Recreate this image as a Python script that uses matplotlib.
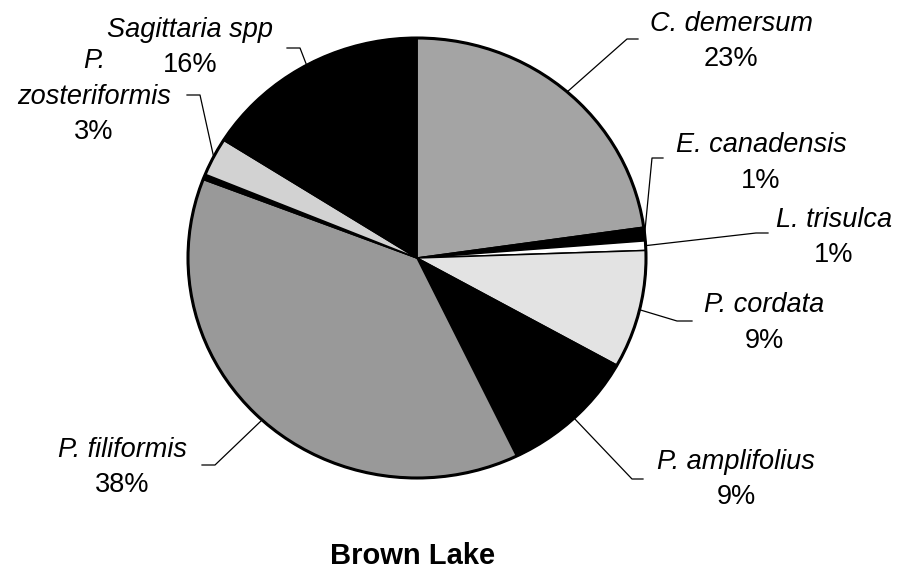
import numpy as np
import matplotlib
matplotlib.use("Agg")
import matplotlib.pyplot as plt
from matplotlib.patches import Ellipse

plt.rcParams["font.family"] = ["Liberation Sans", "DejaVu Sans"]

# --- data (clockwise from 12 o'clock) ---
species = ["C. demersum", "E. canadensis", "L. trisulca", "P. cordata",
           "P. amplifolius", "P. filiformis", "", "P.\nzosteriformis",
           "Sagittaria spp"]
shares = [22.9, 1.0, 0.7, 8.7, 9.8, 38.2, 0.4, 2.8, 16.1]
pct_labels = ["23%", "1%", "1%", "9%", "9%", "38%", "", "3%", "16%"]
fills = ["#a4a4a4", "#000000", "#ffffff", "#e3e3e3", "#000000",
         "#999999", "#000000", "#d2d2d2", "#000000"]
title = "Brown Lake"

# --- label layout, figure pixels (x centre, first baseline, leader elbow, leader end) ---
label_pos = [(731, 31), (761, 152), (834, 227), (764, 312), (736, 469),
             (122, 457), None, (94, 68), (190, 37)]
elbows = [((627, 39), (638, 39)), ((652, 158), (663, 158)),
          ((756, 233), (768, 233)), ((677, 321), (692, 321)),
          ((632, 479), (643, 479)), ((215, 465), (202, 465)), None,
          ((200, 95), (187, 95)), ((300, 48), (287, 48))]

W, H = 918, 582
cx, cy, rx, ry = 417, 258, 229, 220
line_step = 35.5
fs = 19.5

fig = plt.figure(figsize=(W / 100, H / 100), dpi=100)
fig.patch.set_facecolor("white")

ax_pie = fig.add_axes([(cx - rx) / W, (H - cy - ry) / H, 2 * rx / W, 2 * ry / H])
wedges, _ = ax_pie.pie(shares, colors=fills, startangle=90, counterclock=False,
                       wedgeprops=dict(edgecolor="black", linewidth=1.1))
for w in wedges:
    w.set_clip_on(False)
ax_pie.add_patch(Ellipse((0, 0), 2, 2, fill=False, edgecolor="black",
                         linewidth=2.2, clip_on=False))
ax_pie.set_xlim(-1, 1)
ax_pie.set_ylim(-1, 1)
ax_pie.set_aspect("auto")
ax_pie.axis("off")

# overlay in pixel coords for labels
ax = fig.add_axes([0, 0, 1, 1])
ax.set_xlim(0, W)
ax.set_ylim(H, 0)
ax.axis("off")

to_px = ax.transData.inverted()
for i, w in enumerate(wedges):
    if label_pos[i] is None:
        continue
    x, y0 = label_pos[i]
    lines = species[i].split("\n")
    for k, ln in enumerate(lines):
        ax.text(x, y0 + k * line_step, ln, ha="center", va="baseline",
                fontsize=fs, style="italic")
    ax.text(x, y0 + len(lines) * line_step, pct_labels[i], ha="center",
            va="baseline", fontsize=fs)

    mid = np.deg2rad((w.theta1 + w.theta2) / 2)
    edge = to_px.transform(ax_pie.transData.transform((np.cos(mid), np.sin(mid))))
    (ex, ey), (tx, ty) = elbows[i]
    ax.plot([edge[0], ex, tx], [edge[1], ey, ty], color="black", linewidth=0.9)

ax.text(413, 564, title, ha="center", va="baseline", fontsize=21,
        fontweight="bold")

fig.savefig("out.png", dpi=100)
